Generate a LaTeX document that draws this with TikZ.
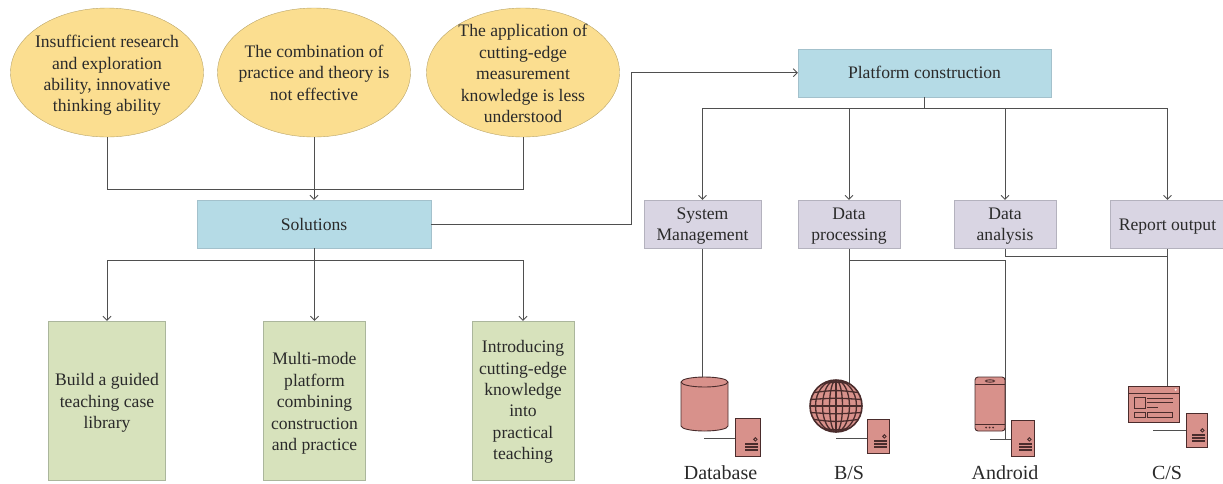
\documentclass[tikz,border=0pt]{standalone}
\usepackage{fontspec}
\setmainfont{Liberation Serif}
\usetikzlibrary{shapes.geometric,arrows.meta}
\definecolor{ellfill}{HTML}{FBDE90}
\definecolor{ellline}{HTML}{B9A468}
\definecolor{bluefill}{HTML}{B5DBE6}
\definecolor{blueline}{HTML}{A3C1CC}
\definecolor{greenfill}{HTML}{D7E2BC}
\definecolor{greenline}{HTML}{ABB69C}
\definecolor{lilacfill}{HTML}{D9D5E3}
\definecolor{lilacline}{HTML}{B4B2BE}
\definecolor{iconfill}{HTML}{D8918B}
\definecolor{iconline}{HTML}{4A2C2C}
\definecolor{wire}{HTML}{4F4F4F}
\definecolor{ink}{HTML}{2A2A2A}
\tikzset{
    lbl/.style={align=center, inner sep=0pt, text=ink, font=\fontsize{17.6}{21.4}\selectfont},
    probell/.style={ellipse, draw=ellline, fill=ellfill, inner sep=0pt, minimum width=193pt, minimum height=129pt},
    bluebox/.style={lbl, draw=blueline, fill=bluefill, minimum height=48pt},
    greenbox/.style={draw=greenline, fill=greenfill, inner sep=0pt, minimum height=159pt},
    lilacbox/.style={draw=lilacline, fill=lilacfill, inner sep=0pt, minimum height=48.5pt},
    wireline/.style={draw=wire, line width=0.8pt},
    tipline/.style={wireline, -{Straight Barb[length=4pt,width=8pt]}},
    srvbox/.style={draw=iconline, fill=iconfill, line width=0.8pt, inner sep=0pt},
    icon/.style={draw=iconline, fill=iconfill, line width=0.9pt},
    iconthin/.style={draw=iconline, line width=0.9pt},
    caption/.style={lbl, font=\fontsize{20}{22}\selectfont}
}
\begin{document}
\begin{tikzpicture}[x=1pt,y=-1pt]
    \useasboundingbox (0,0) rectangle (1223,483);

    % Problemas
    \node[probell] (ella) at (107,72.5) {};
    \node[probell] (ellb) at (314,72.5) {};
    \node[probell] (ellc) at (523,72.5) {};
    \node[lbl] (txta) at (107,75.5) {Insufficient research\\and exploration\\ability, innovative\\thinking ability};
    \node[lbl] (txtb) at (314,72.5) {The combination of\\practice and theory is\\not effective};
    \node[lbl] (txtc) at (523,73.5) {The application of\\cutting-edge\\measurement\\knowledge is less\\understood};

    % Cajas principales
    \node[bluebox, minimum width=234pt] (sol) at (314,224) {Solutions};
    \node[bluebox, minimum width=253pt] (plat) at (924.5,72.7) {Platform construction};

    % Cajas verdes
    \node[greenbox, minimum width=117pt] (casea) at (107,400.5) {};
    \node[greenbox, minimum width=102pt] (caseb) at (314.5,400.5) {};
    \node[greenbox, minimum width=102pt] (casec) at (523,400.5) {};
    \node[lbl] (txtd) at (107,403) {Build a guided\\teaching case\\library};
    \node[lbl] (txte) at (314.5,403.5) {Multi-mode\\platform\\combining\\construction\\and practice};
    \node[lbl] (txtf) at (523,402) {Introducing\\cutting-edge\\knowledge\\into\\practical\\teaching};

    % Modulos
    \node[lilacbox, minimum width=117pt] (sysm) at (702.5,224.3) {};
    \node[lilacbox, minimum width=102pt] (proc) at (849,224.3) {};
    \node[lilacbox, minimum width=102pt] (anal) at (1005,224.3) {};
    \node[lilacbox, minimum width=115pt] (repo) at (1167.5,224.3) {};
    \node[lbl] (txtg) at (702.5,226) {System\\Management};
    \node[lbl] (txth) at (849,226) {Data\\processing};
    \node[lbl] (txti) at (1005,226) {Data\\analysis};
    \node[lbl] (txtj) at (1167.5,227) {Report output};

    % Puntos de paso
    \coordinate (busa) at (314,189);
    \coordinate (busb) at (314,260);
    \coordinate (busc) at (925,108);
    \coordinate (busd) at (925,260);
    \coordinate (buse) at (925,256);
    \coordinate (elbow) at (631.5,72.7);
    \coordinate (dbtop) at (702.5,377);
    \coordinate (globetop) at (849,383);
    \coordinate (phonelow) at (1005,439);
    \coordinate (wintop) at (1167.5,386);

    % Conexiones de la izquierda
    \draw[wireline] (ella.south) -- (ella.south |- busa) -- (ellc.south |- busa) -- (ellc.south);
    \draw[tipline] (ellb.south) -- (sol.north);
    \draw[wireline] (sol.south) -- (busb);
    \draw[wireline] (casea.north |- busb) -- (casec.north |- busb);
    \foreach \cas in {casea,caseb,casec}
        \draw[tipline] (\cas.north |- busb) -- (\cas.north);
    \draw[tipline] (sol.east) -| (elbow) -- (plat.west);

    % Conexiones de la derecha
    \draw[wireline] (plat.south) -- (plat.south |- busc);
    \draw[wireline] (sysm.north |- busc) -- (repo.north |- busc);
    \foreach \mod in {sysm,proc,anal,repo}
        \draw[tipline] (\mod.north |- busc) -- (\mod.north);
    \draw[wireline] (sysm.south) -- (dbtop);
    \draw[wireline] (proc.south) -- (globetop);
    \draw[wireline] (proc.south |- busd) -- (anal.south |- busd) -- (phonelow);
    \draw[wireline] (anal.south) -- (anal.south |- buse) -- (repo.south |- buse);
    \draw[wireline] (repo.south) -- (wintop);

    % Base de datos
    \draw[icon] (681,382) -- (681,426) arc (180:0:23.5 and 5) -- (728,382) arc (0:-180:23.5 and 5) -- cycle;
    \draw[iconthin] (681,382) arc (180:0:23.5 and 5);

    % Globo
    \begin{scope}[shift={(836,406)}]
        \fill[iconfill] (0,0) circle [radius=26];
        \begin{scope}
            \clip (0,0) circle [radius=26];
            \foreach \w in {6.5,13.5,20.5}
                \draw[iconthin, line width=1.3pt] (0,0) ellipse [x radius=\w, y radius=26];
            \draw[iconthin, line width=1.3pt] (0,-26) -- (0,26);
            \draw[iconthin, line width=1.3pt] (-26,0) -- (26,0);
            \foreach \d in {-20,-13,-6.5,6.5,13,20}
                \draw[iconthin, line width=1.3pt] (-26,\d) .. controls (0,\d*1.25) .. (26,\d);
        \end{scope}
        \draw[iconline, line width=1.6pt] (0,0) circle [radius=26];
    \end{scope}

    % Telefono
    \draw[icon, rounded corners=3pt] (975,377) rectangle (1005,431);
    \draw[iconthin] (975,384) -- (1005,384);
    \draw[iconthin] (975,424) -- (1005,424);
    \draw[iconthin] (990,381) ellipse [x radius=4.5, y radius=1.2];
    \foreach \x in {986,989.5,993}
        \fill[iconline] (\x,427.5) circle [radius=1];

    % Ventana
    \draw[icon] (1128,386) rectangle (1179,422);
    \draw[iconthin] (1128,393) -- (1179,393);
    \fill[white!85!iconfill] (1175.7,389.7) circle [radius=1.2];
    \draw[iconthin] (1134,397) rectangle (1145,408);
    \draw[iconthin] (1147,398.3) -- (1173,398.3);
    \draw[iconthin] (1147,402.7) -- (1173,402.7);
    \draw[iconthin] (1147,407.3) -- (1158,407.3);
    \draw[iconthin] (1134,412) rectangle (1145,417);
    \draw[iconthin] (1147,412) rectangle (1172,417);

    % Servidores
    \node[srvbox, minimum width=25pt, minimum height=38pt] (srva) at (747.5,437) {};
    \node[srvbox, minimum width=22pt, minimum height=34pt] (srvb) at (878,436) {};
    \node[srvbox, minimum width=23pt, minimum height=36pt] (srvc) at (1022.5,438) {};
    \node[srvbox, minimum width=21pt, minimum height=34pt] (srvd) at (1196.5,430) {};
    \foreach \srv in {srva,srvb,srvc,srvd} {
        \draw[iconthin] (\srv.south east) ++(-5,-17) circle [radius=1.7];
        \foreach \s in {-12.5,-9.5,-6.5}
            \draw[iconline, line width=1.7pt] (\srv.south east) ++(-15,\s) -- ++(12.5,0);
    }
    \draw[wireline] (srva.west) ++(0,1) -- ++(-31,0);
    \draw[wireline] (srvb.west) ++(0,2) -- ++(-31,0);
    \draw[wireline] (srvc.west) ++(0,1) -- ++(-21,0);
    \draw[wireline] (srvd.west) -- ++(-33,0);

    % Nombres
    \node[caption] (capa) at (720.5,473) {Database};
    \node[caption] (capb) at (849,473) {B/S};
    \node[caption] (capc) at (1005,473) {Android};
    \node[caption] (capd) at (1167,473) {C/S};
\end{tikzpicture}
\end{document}
